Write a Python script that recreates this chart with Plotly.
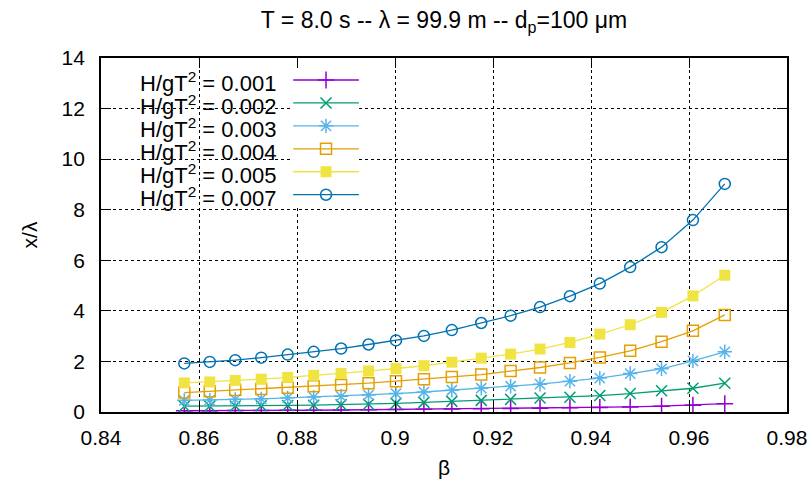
import plotly.graph_objects as go

beta = [0.8570, 0.8622, 0.8674, 0.8727, 0.8781, 0.8834, 0.8890, 0.8946, 0.9002, 0.9059,
        0.9116, 0.9176, 0.9236, 0.9296, 0.9357, 0.9418, 0.9480, 0.9544, 0.9608, 0.9673]

labels = ["H/gT<sup>2</sup> = 0.001", "H/gT<sup>2</sup> = 0.002", "H/gT<sup>2</sup> = 0.003",
          "H/gT<sup>2</sup> = 0.004", "H/gT<sup>2</sup> = 0.005", "H/gT<sup>2</sup> = 0.007"]

x_001 = [0.05, 0.05, 0.06, 0.06, 0.07, 0.07, 0.08, 0.09, 0.10, 0.11,
         0.12, 0.13, 0.14, 0.15, 0.17, 0.18, 0.20, 0.23, 0.27, 0.33]
x_002 = [0.23, 0.23, 0.24, 0.25, 0.26, 0.27, 0.29, 0.31, 0.34, 0.38,
         0.42, 0.46, 0.50, 0.55, 0.58, 0.65, 0.73, 0.84, 0.94, 1.14]
x_003 = [0.46, 0.47, 0.50, 0.52, 0.56, 0.59, 0.62, 0.67, 0.73, 0.79,
         0.86, 0.94, 1.02, 1.10, 1.22, 1.34, 1.52, 1.71, 2.02, 2.38]
x_004 = [0.77, 0.82, 0.87, 0.91, 0.96, 1.02, 1.07, 1.14, 1.22, 1.30,
         1.38, 1.48, 1.62, 1.76, 1.94, 2.16, 2.42, 2.78, 3.21, 3.84]
x_005 = [1.15, 1.19, 1.25, 1.30, 1.37, 1.45, 1.52, 1.62, 1.72, 1.83,
         1.97, 2.13, 2.29, 2.49, 2.75, 3.08, 3.45, 3.94, 4.59, 5.41]
x_007 = [1.92, 1.98, 2.05, 2.15, 2.27, 2.38, 2.51, 2.67, 2.83, 3.01,
         3.24, 3.52, 3.81, 4.15, 4.58, 5.08, 5.73, 6.52, 7.59, 9.02]

series = [x_001, x_002, x_003, x_004, x_005, x_007]
colors = ["#9400d3", "#009e73", "#56b4e9", "#e69f00", "#f0e442", "#0072b2"]
symbols = ["cross-thin", "x-thin", "asterisk", "square-open", "square", "circle-open"]
sizes = [12, 11, 12, 11, 11, 11]

FONT = "Liberation Sans, Arial, sans-serif"
FS = 21
FS_BIG = 23

fig = go.Figure()

def marker_for(i):
    if symbols[i] == "square":
        return dict(symbol="square", size=sizes[i], color=colors[i], line=dict(width=0))
    return dict(symbol=symbols[i], size=sizes[i], color=colors[i],
                line=dict(color=colors[i], width=1.5))

for i, ys in enumerate(series):
    fig.add_trace(go.Scatter(x=beta, y=ys, mode="lines+markers", name=labels[i],
                             line=dict(color=colors[i], width=1.3),
                             marker=marker_for(i), showlegend=False,
                             xaxis="x", yaxis="y"))

# custom gnuplot-style legend (text left, sample right) on hidden helper axes
for i in range(len(series)):
    fig.add_trace(go.Scatter(x=[0, 1], y=[i, i], mode="lines",
                             line=dict(color=colors[i], width=1.3),
                             showlegend=False, hoverinfo="skip",
                             xaxis="x2", yaxis="y2"))
    fig.add_trace(go.Scatter(x=[0.5], y=[i], mode="markers",
                             marker=marker_for(i),
                             showlegend=False, hoverinfo="skip",
                             xaxis="x2", yaxis="y2"))
    fig.add_annotation(text=labels[i], x=0.258, xref="paper", xanchor="right",
                       y=i, yref="y2", yanchor="middle", yshift=-2, showarrow=False,
                       font=dict(family=FONT, size=22, color="black"))

axis_common = dict(showline=True, linecolor="black", linewidth=1.8, mirror="ticks",
                   ticks="inside", ticklen=10, tickwidth=1, tickcolor="black",
                   showgrid=True, gridcolor="black", gridwidth=1, griddash="dot",
                   zeroline=False, automargin=False,
                   tickfont=dict(family=FONT, size=FS, color="black"))

fig.update_layout(
    width=812, height=482,
    margin=dict(l=101, r=25, t=58, b=70, autoexpand=False),
    paper_bgcolor="white", plot_bgcolor="white",
    title=dict(text="T = 8.0 s -- λ = 99.9 m -- d<sub>p</sub>=100 μm",
               x=0.5, xref="paper", xanchor="center",
               y=1 - 20 / 482, yref="container", yanchor="middle",
               font=dict(family=FONT, size=FS_BIG, color="black")),
    xaxis=dict(range=[0.84, 0.98], tickvals=[0.84, 0.86, 0.88, 0.9, 0.92, 0.94, 0.96, 0.98],
               ticktext=["0.84", "0.86", "0.88", "0.9", "0.92", "0.94", "0.96", "0.98"],
               ticklabelstandoff=6,
               title=dict(text="β", font=dict(family=FONT, size=FS, color="black"), standoff=12),
               **axis_common),
    yaxis=dict(range=[0, 14], tickvals=[0, 2, 4, 6, 8, 10, 12, 14],
               ticklabelstandoff=10,
               title=dict(text="x/λ", font=dict(family=FONT, size=FS, color="black"), standoff=18),
               **axis_common),
    xaxis2=dict(domain=[0.280, 0.376], range=[0, 1], visible=False, fixedrange=True),
    yaxis2=dict(domain=[0.5814, 0.9703], range=[5.5, -0.5], visible=False, fixedrange=True,
                anchor="x2"),
    font=dict(family=FONT, size=FS, color="black"),
)
fig.update_layout(xaxis2_anchor="y2")

fig.write_html("out.html")
